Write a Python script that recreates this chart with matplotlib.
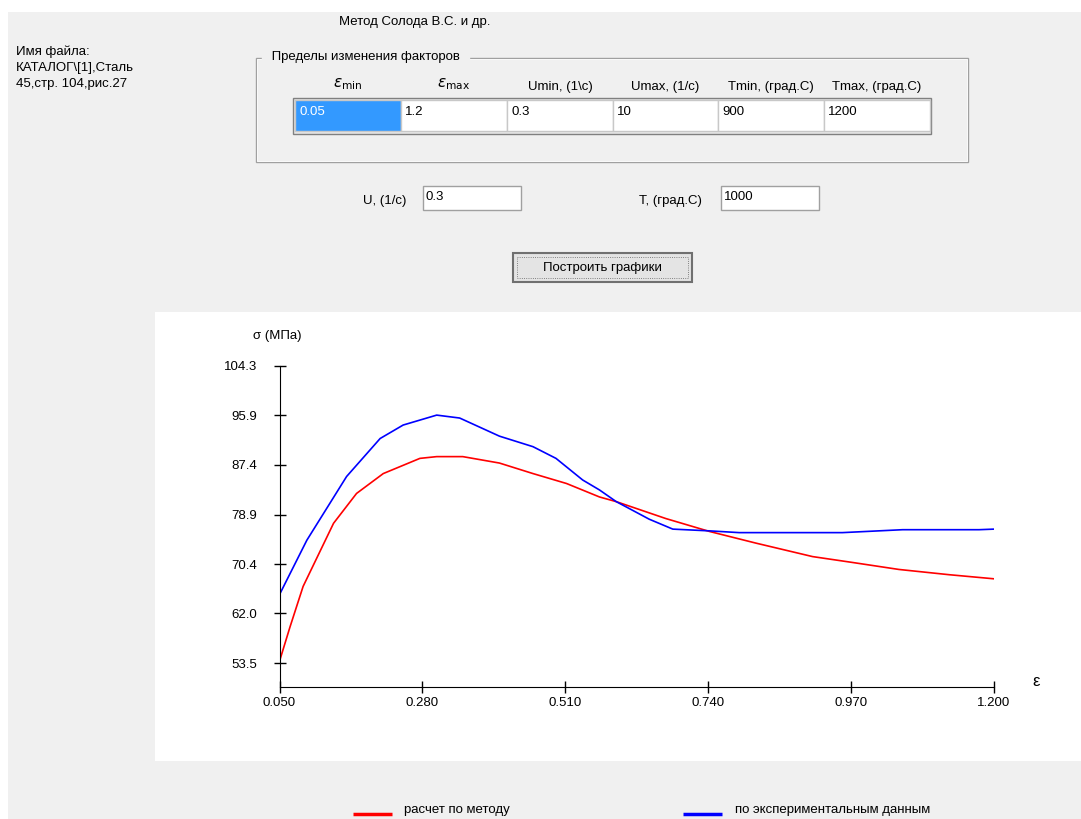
import matplotlib.pyplot as plt
from matplotlib.patches import Rectangle

plt.rcParams['font.family'] = ['Liberation Sans', 'DejaVu Sans']
plt.rcParams['mathtext.fontset'] = 'dejavusans'

# calculated curve (method of Solod et al.)
eps_calc = [0.05, 0.067, 0.088, 0.137, 0.174, 0.217, 0.276, 0.303, 0.345,
            0.404, 0.458, 0.512, 0.565, 0.592, 0.672, 0.742, 0.817, 0.908,
            0.972, 1.047, 1.128, 1.2]
sigma_calc = [53.8, 59.7, 66.6, 77.4, 82.5, 85.9, 88.5, 88.8, 88.8,
              87.7, 85.9, 84.2, 81.9, 81.1, 78.2, 76.0, 74.0, 71.7,
              70.7, 69.5, 68.6, 67.9]

# experimental curve
eps_exp = [0.05, 0.094, 0.131, 0.158, 0.212, 0.249, 0.303, 0.340, 0.404,
           0.458, 0.495, 0.538, 0.565, 0.592, 0.608, 0.645, 0.683, 0.742,
           0.790, 0.956, 1.053, 1.176, 1.2]
sigma_exp = [65.2, 74.5, 80.8, 85.4, 91.9, 94.2, 95.9, 95.4, 92.3,
             90.5, 88.5, 84.8, 83.1, 81.1, 80.2, 78.1, 76.4, 76.1,
             75.8, 75.8, 76.3, 76.3, 76.4]

x_ticks = [0.05, 0.28, 0.51, 0.74, 0.97, 1.2]
y_ticks = [53.5, 62.0, 70.4, 78.9, 87.4, 95.9, 104.3]

table_headers = [r'$\varepsilon_{\mathrm{min}}$', r'$\varepsilon_{\mathrm{max}}$',
                 'Umin, (1\\c)', 'Umax, (1/c)', 'Tmin, (град.С)', 'Tmax, (град.С)']
table_values = ['0.05', '1.2', '0.3', '10', '900', '1200']
file_lines = ['Имя файла:', 'КАТАЛОГ\\[1],Сталь', '45,стр. 104,рис.27']
legend_labels = ['расчет по методу', 'по экспериментальным данным']

W, H = 1081, 819
GRAY = '#f0f0f0'
fig = plt.figure(figsize=(W / 100, H / 100), dpi=100)
fig.patch.set_facecolor('white')

# form layer in pixel coordinates
form = fig.add_axes([0, 0, 1, 1])
form.set_xlim(0, W)
form.set_ylim(H, 0)
form.axis('off')

form.add_patch(Rectangle((8, 12), W - 8, H - 12, fc=GRAY, ec='none'))
form.add_patch(Rectangle((155, 312), W - 155, 449, fc='white', ec='none'))

fs = 9.5
form.text(415, 22, 'Метод Солода В.С. и др.', ha='center', va='center', fontsize=fs)
for i, line in enumerate(file_lines):
    form.text(16, 52 + i * 16, line, ha='left', va='center', fontsize=fs)

# group box
form.add_patch(Rectangle((256, 58), 712, 104, fc='none', ec='#a0a0a0', lw=1))
form.add_patch(Rectangle((257, 59), 710, 102, fc='none', ec='white', lw=0.6))
form.text(268, 57, ' Пределы изменения факторов ', ha='left', va='center',
          fontsize=fs, backgroundcolor=GRAY)

# parameter table
col_x = [295, 401, 507, 613, 718, 824, 930]
form.add_patch(Rectangle((293, 98), 638, 36, fc='#e8e8e8', ec='#808080', lw=1))
for i, (hdr, val) in enumerate(zip(table_headers, table_values)):
    x0, x1 = col_x[i], col_x[i + 1]
    fc = '#3399ff' if i == 0 else 'white'
    form.add_patch(Rectangle((x0, 100), x1 - x0, 31, fc=fc, ec='#c8c8c8', lw=1))
    tc = 'white' if i == 0 else 'black'
    form.text(x0 + 4, 112, val, ha='left', va='center', fontsize=fs, color=tc)
    hy = 84 if i < 2 else 87
    form.text((x0 + x1) / 2, hy, hdr, ha='center', va='center',
              fontsize=11 if i < 2 else fs)

# single value inputs
for label, lx, bx, val in [('U, (1/c)', 385, 423, '0.3'),
                           ('T, (град.С)', 670, 721, '1000')]:
    form.text(lx, 201, label, ha='center', va='center', fontsize=fs)
    form.add_patch(Rectangle((bx, 186), 98, 24, fc='white', ec='#a0a0a0', lw=1))
    form.text(bx + 3, 197, val, ha='left', va='center', fontsize=fs)

# button
form.add_patch(Rectangle((513, 253), 179, 29, fc='#e4e4e4', ec='#707070', lw=1.5))
form.add_patch(Rectangle((517, 257), 171, 21, fc='none', ec='#606060', lw=0.6, ls=':'))
form.text(602, 268, 'Построить графики', ha='center', va='center', fontsize=fs)

# legend strip below the chart
form.plot([353, 392], [814, 814], color='red', lw=2.5, solid_capstyle='butt')
form.text(404, 810, legend_labels[0], ha='left', va='center', fontsize=fs)
form.plot([683, 722], [814, 814], color='blue', lw=2.5, solid_capstyle='butt')
form.text(735, 810, legend_labels[1], ha='left', va='center', fontsize=fs)

# chart
left, right, top, bottom = 279.5, 994, 366, 687
ax = fig.add_axes([left / W, 1 - bottom / H, (right - left) / W, (bottom - top) / H])
ax.patch.set_alpha(0)
ax.plot(eps_calc, sigma_calc, color='red', lw=1.2)
ax.plot(eps_exp, sigma_exp, color='blue', lw=1.2)

ymin = 53.5 - (bottom - 663) / (663 - top) * (104.3 - 53.5)
ax.set_xlim(0.05, 1.2)
ax.set_ylim(ymin, 104.3)
ax.spines['top'].set_visible(False)
ax.spines['right'].set_visible(False)
ax.set_xticks(x_ticks)
ax.set_xticklabels(['%.3f' % v for v in x_ticks])
ax.set_yticks(y_ticks)
ax.set_yticklabels(['%.1f' % v for v in y_ticks])
ax.tick_params(direction='inout', length=8, width=1, labelsize=fs, pad=3)
ax.tick_params(axis='y', pad=12)

form.text(253, 336, 'σ (МПа)', ha='left', va='center', fontsize=fs)
form.text(1036, 681, 'ε', ha='center', va='center', fontsize=12)

fig.savefig('out.png', dpi=100)
